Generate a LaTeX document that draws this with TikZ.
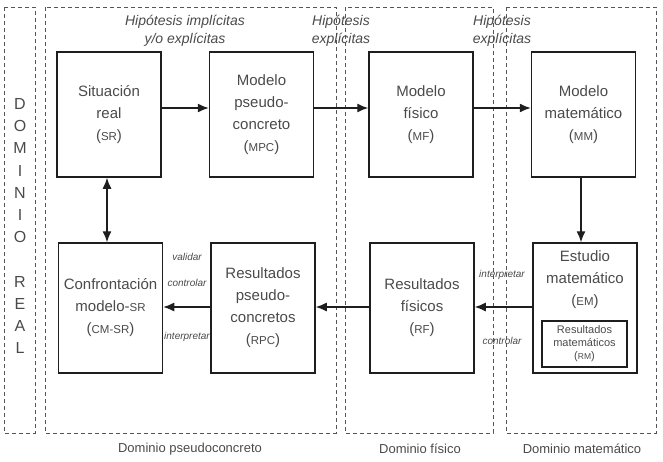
\documentclass[tikz,border=0pt]{standalone}
\usepackage{fontspec}
\setmainfont{Liberation Sans}
\usetikzlibrary{arrows.meta}
\definecolor{txt}{HTML}{4A4A4A}
\definecolor{ln}{HTML}{1E1E1E}
\definecolor{dsh}{HTML}{555555}
\newcommand\smcA[1]{{\fontsize{11.5}{13}\selectfont #1}}
\newcommand\smcB[1]{{\fontsize{8.5}{10}\selectfont #1}}
\tikzset{
  region/.style={draw=dsh, line width=0.8pt, dash pattern=on 4pt off 3pt},
  box/.style={draw=ln, line width=1.5pt, minimum width=104pt, minimum height=125pt, inner sep=0pt, align=center, text=txt, font=\fontsize{15}{22}\selectfont},
  hyp/.style={text=txt, align=center, font=\fontsize{14}{18}\selectfont\itshape},
  lab/.style={text=txt, font=\fontsize{10}{12}\selectfont\itshape},
  dom/.style={text=txt, font=\fontsize{13}{15}\selectfont},
  arr/.style={draw=ln, line width=1.3pt, -{Latex[length=11pt,width=9pt]}},
}
\begin{document}
\begin{tikzpicture}[x=1pt,y=-1pt]
\useasboundingbox (0,0) rectangle (663,461);
% regions
\draw[region] (4,7) rectangle (35,433);
\draw[region] (45,7) rectangle (336,433);
\draw[region] (345,7) rectangle (493,433);
\draw[region] (506,7) rectangle (656,433);
\node[text=txt, align=center, font=\fontsize{16}{22.2}\selectfont] (real) at (20,226) {D\\O\\M\\I\\N\\I\\O\\[22.2pt]R\\E\\A\\L};
% hypotheses
\node[hyp] (h1) at (185,31) {Hipótesis implícitas\\y/o explícitas};
\node[hyp] (h2) at (341,31) {Hipótesis\\explícitas};
\node[hyp] (h3) at (502,31) {Hipótesis\\explícitas};
% top boxes
\node[box] (sr) at (109,114.5) {Situación\\real\\(\smcA{SR})};
\node[box] (mpc) at (261.5,114.5) {Modelo\\pseudo-\\concreto\\(\smcA{MPC})};
\node[box] (mf) at (421,114.5) {Modelo\\físico\\(\smcA{MF})};
\node[box] (mm) at (583.5,114.5) {Modelo\\matemático\\(\smcA{MM})};
% bottom boxes
\node[box, minimum height=130pt] (cm) at (110.5,308) {Confrontación\\modelo-\smcA{SR}\\(\smcA{CM-SR})};
\node[box, minimum height=130pt] (rpc) at (263,308) {Resultados\\pseudo-\\concretos\\(\smcA{RPC})};
\node[box, minimum height=130pt] (rf) at (422,308) {Resultados\\físicos\\(\smcA{RF})};
\node[box, minimum height=130pt] (em) at (585,308) {};
\node[text=txt, align=center, font=\fontsize{15}{22}\selectfont] (emt) at (585,280) {Estudio\\matemático\\(\smcA{EM})};
\node[draw=ln, line width=1.2pt, minimum width=85pt, minimum height=46pt, inner sep=0pt, align=center, text=txt, font=\fontsize{11}{13}\selectfont] (rm) at (584.5,344) {Resultados\\matemáticos\\(\smcB{RM})};
% arrows
\draw[arr] ([yshift=6.5pt]sr.east) -- ([yshift=6.5pt]mpc.west);
\draw[arr] ([yshift=6.5pt]mpc.east) -- ([yshift=6.5pt]mf.west);
\draw[arr] ([yshift=6.5pt]mf.east) -- ([yshift=6.5pt]mm.west);
\draw[arr] ([xshift=-2.5pt]mm.south) -- ([xshift=-2.5pt]mm.south |- em.north);
\draw[arr] ([yshift=1pt]em.west) -- ([yshift=1pt]rf.east);
\draw[arr] ([yshift=1pt]rf.west) -- ([yshift=1pt]rpc.east);
\draw[arr] ([yshift=1pt]rpc.west) -- ([yshift=1pt]cm.east);
\draw[arr, {Latex[length=11pt,width=9pt]}-{Latex[length=11pt,width=9pt]}] ([xshift=-2pt]sr.south) -- ([xshift=-2pt]sr.south |- cm.north);
% small labels
\node[lab] (l1) at (187,257) {validar};
\node[lab] (l2) at (187,283) {controlar};
\node[lab] (l3) at (187,337) {interpretar};
\node[lab] (l4) at (502,275) {interpretar};
\node[lab] (l5) at (502,341) {controlar};
% domain labels
\node[dom] (d1) at (190,449) {Dominio pseudoconcreto};
\node[dom] (d2) at (420,449) {Dominio físico};
\node[dom] (d3) at (582,449) {Dominio matemático};
\end{tikzpicture}
\end{document}
